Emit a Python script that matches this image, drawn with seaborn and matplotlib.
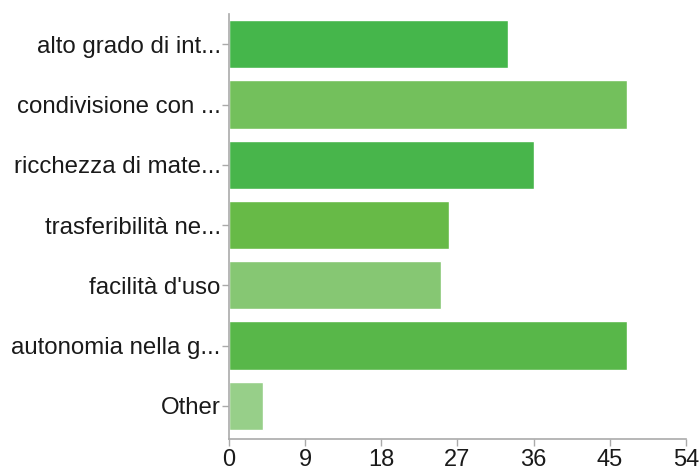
import matplotlib
matplotlib.use("Agg")
import matplotlib.pyplot as plt
import seaborn as sns
import pandas as pd

# data
labels = ["alto grado di int...", "condivisione con ...", "ricchezza di mate...",
          "trasferibilità ne...", "facilità d'uso", "autonomia nella g...", "Other"]
counts = [33, 47, 36, 26, 25, 47, 4]
bar_colors = ["#45b64b", "#73c05c", "#48b54b", "#67ba47", "#86c773", "#58b749", "#97cf89"]
x_ticks = [0, 9, 18, 27, 36, 45, 54]

df = pd.DataFrame({"label": labels, "count": counts})

sns.set_theme(style="white")
plt.rcParams["font.family"] = ["Liberation Sans", "DejaVu Sans"]

fig = plt.figure(figsize=(6.99, 4.70), dpi=100)
ax = fig.add_axes([0.3276, 0.066, 0.6538, 0.904])

sns.barplot(data=df, x="count", y="label", hue="label", palette=bar_colors,
            legend=False, width=0.8, saturation=1, ax=ax)

ax.set_xlim(0, 54)
ax.set_ylim(6.55, -0.5)
ax.set_xticks(x_ticks)
ax.set_xlabel("")
ax.set_ylabel("")

for s in ["top", "right"]:
    ax.spines[s].set_visible(False)
for s in ["left", "bottom"]:
    ax.spines[s].set_color("#aaaaaa")
    ax.spines[s].set_linewidth(1.2)

ax.tick_params(axis="both", which="both", direction="out", length=5, width=1,
               color="#aaaaaa", labelsize=17.3, labelcolor="#1a1a1a", pad=1,
               bottom=True, left=True)
ax.tick_params(axis="x", labelsize=17, pad=2)

fig.savefig("out.png", dpi=100)
